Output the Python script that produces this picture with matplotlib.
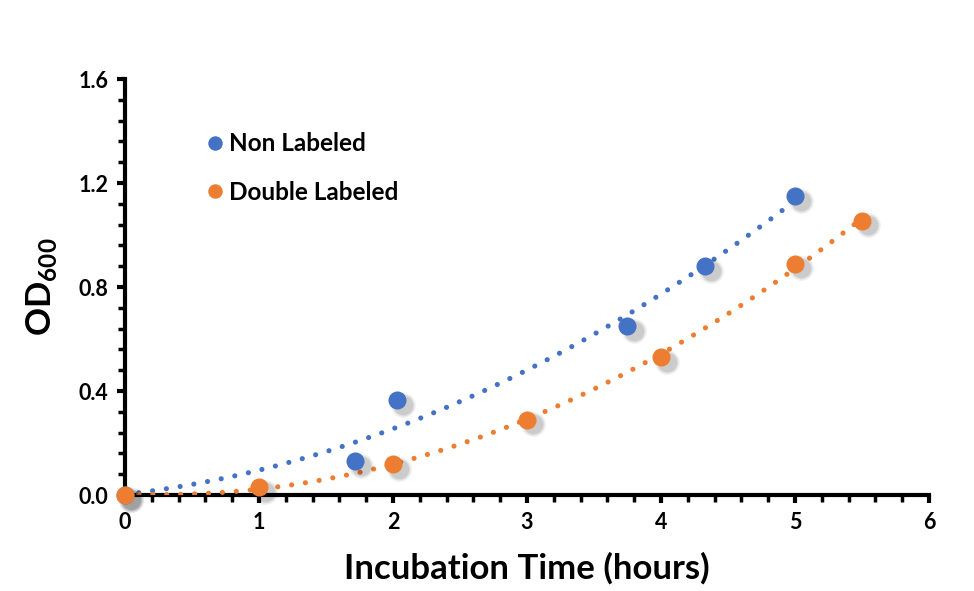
import numpy as np
import matplotlib
matplotlib.use("Agg")
import matplotlib.pyplot as plt
from matplotlib.ticker import MultipleLocator

plt.rcParams['font.family'] = ['Lato', 'DejaVu Sans']
plt.rcParams['mathtext.fontset'] = 'custom'
plt.rcParams['mathtext.rm'] = 'Lato'
plt.rcParams['mathtext.bf'] = 'Lato:bold'

# Data
non_x = [0.0, 1.72, 2.03, 3.75, 4.33, 5.0]
non_y = [0.0, 0.13, 0.365, 0.65, 0.88, 1.15]
dbl_x = [0.0, 1.0, 2.0, 3.0, 4.0, 5.0, 5.5]
dbl_y = [0.0, 0.03, 0.12, 0.29, 0.53, 0.89, 1.055]
series_labels = ["Non Labeled", "Double Labeled"]
blue = "#4472C4"
orange = "#ED7D31"

fig = plt.figure(figsize=(9.74, 5.91), dpi=100)
ax = fig.add_axes([0.1283, 0.1624, 0.8255, 0.7039])

def shadowed_scatter(x, y, color, label):
    # soft drop shadow
    for s, a in [(18, 0.05), (16, 0.07), (14, 0.09)]:
        ax.plot(np.array(x) + 0.045, np.array(y) - 0.018, 'o', ms=s, color='black',
                alpha=a, mec='none', zorder=5, clip_on=False)
    ax.plot(x, y, 'o', ms=13, color=color, mec='none', zorder=6, label=label,
            clip_on=False)

def trend(x, y, color):
    c = np.polyfit(x, y, 2)
    xs = np.linspace(0, max(x), 300)
    ax.plot(xs, np.polyval(c, xs), color=color, lw=3.7,
            linestyle=(0, (0.01, 2.7)), dash_capstyle='round', zorder=4)

trend(non_x, non_y, blue)
trend(dbl_x, dbl_y, orange)
shadowed_scatter(non_x, non_y, blue, series_labels[0])
shadowed_scatter(dbl_x, dbl_y, orange, series_labels[1])

ax.set_xlim(0, 6)
ax.set_ylim(0, 1.6)
ax.xaxis.set_major_locator(MultipleLocator(1))
ax.xaxis.set_minor_locator(MultipleLocator(0.2))
ax.yaxis.set_major_locator(MultipleLocator(0.4))
ax.yaxis.set_minor_locator(MultipleLocator(0.08))
ax.yaxis.set_major_formatter(plt.FuncFormatter(lambda v, p: f"{v:.1f}"))

for s in ['top', 'right']:
    ax.spines[s].set_visible(False)
for s in ['left', 'bottom']:
    ax.spines[s].set_linewidth(3)
    ax.spines[s].set_color('black')
    ax.spines[s].set_zorder(3)

ax.tick_params(which='major', length=6, width=3, direction='out', labelsize=15.5,
               pad=6)
ax.tick_params(which='minor', length=5, width=2.5, direction='out')
for lab in ax.get_xticklabels() + ax.get_yticklabels():
    lab.set_fontweight('bold')

ax.set_xlabel("Incubation Time (hours)", fontsize=25, fontweight='bold', labelpad=14)
ax.set_ylabel(r"$\mathbf{OD}_{\mathbf{600}}$", fontsize=25, labelpad=14)

leg = ax.legend(loc='upper left', bbox_to_anchor=(0.07, 0.925), frameon=False,
                prop={'weight': 'bold', 'size': 17.5}, handletextpad=0.05,
                handlelength=1.0, labelspacing=1.05, markerscale=0.8)

fig.savefig("out.png", dpi=100, facecolor='white')
